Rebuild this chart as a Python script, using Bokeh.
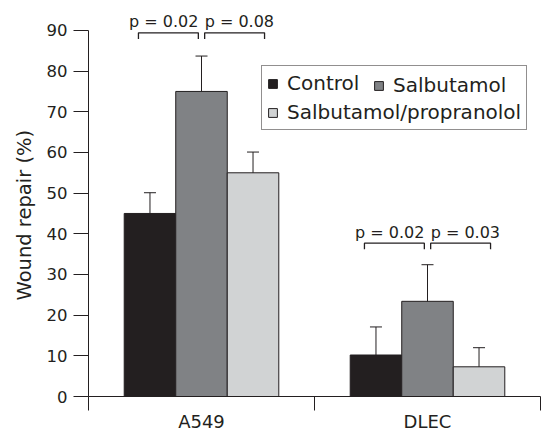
from bokeh.plotting import figure
from bokeh.models import (ColumnDataSource, Range1d, FixedTicker, Whisker, TeeHead,
                          Legend, LegendItem, Label, Title)
from bokeh.embed import file_html
from bokeh.resources import INLINE

# ---------------- data ----------------
cell_lines = ["A549", "DLEC"]
treatments = ["Control", "Salbutamol", "Salbutamol/propranolol"]
control = [45.0, 10.2]
control_err = [5.1, 6.9]
salbutamol = [75.0, 23.4]
salbutamol_err = [8.7, 9.0]
salb_prop = [55.0, 7.3]
salb_prop_err = [5.1, 4.7]
y_ticks = [0, 10, 20, 30, 40, 50, 60, 70, 80, 90]

# p-value brackets: each compares Salbutamol with its left or right neighbour
p_group = ["A549", "A549", "DLEC", "DLEC"]
p_side = ["left", "right", "left", "right"]
p_labels = ["p = 0.02", "p = 0.08", "p = 0.02", "p = 0.03"]
p_height = [89.4, 89.4, 37.7, 37.7]

# ---------------- style ----------------
INK = "#231f20"
FONT = "DejaVu Sans"
colors = ["#231f20", "#808285", "#d1d3d4"]
bar_w = 0.228
br_gap = 0.014
br_span = 0.265
br_leg = 1.5

values = [control, salbutamol, salb_prop]
errors = [control_err, salbutamol_err, salb_prop_err]

p = figure(width=542, height=435, x_range=Range1d(0, 2), y_range=Range1d(0, 94.9),
           output_backend="svg", toolbar_location=None,
           min_border_left=88, min_border_right=2, min_border_top=10, min_border_bottom=39)
p.outline_line_color = None
p.grid.visible = False
p.background_fill_color = "white"

renderers = []
for k, (vals, errs) in enumerate(zip(values, errors)):
    xs = [i + 0.5 + (k - 1) * bar_w for i in range(len(cell_lines))]
    src = ColumnDataSource(dict(x=xs, top=vals, upper=[v + e for v, e in zip(vals, errs)]))
    r = p.vbar(x="x", top="top", bottom=0, width=bar_w, source=src,
               fill_color=colors[k], line_color=INK, line_width=1)
    renderers.append(r)
    wh = Whisker(source=src, base="x", lower="top", upper="upper",
                 upper_head=TeeHead(size=12, line_color=INK, line_width=1),
                 lower_head=None, line_color=INK, line_width=1, level="glyph")
    p.add_layout(wh)

# brackets and p-value labels
bxs, bys = [], []
for g, side, lab, h in zip(p_group, p_side, p_labels, p_height):
    c = cell_lines.index(g) + 0.5
    if side == "left":
        x1 = c - br_gap
        x0 = x1 - br_span
        tx, al = x1, "right"
    else:
        x0 = c + br_gap
        x1 = x0 + br_span
        tx, al = x0, "left"
    bxs.append([x0, x0, x1, x1])
    bys.append([h - br_leg, h, h, h - br_leg])
    p.add_layout(Label(x=tx, y=h, text=lab, text_align=al, text_baseline="alphabetic",
                       y_offset=11, text_font=FONT, text_font_size="16px", text_color=INK))
p.multi_line(xs=bxs, ys=bys, line_color=INK, line_width=1.3)

# axes
xa = p.xaxis[0]
xa.ticker = FixedTicker(ticks=[i + 0.5 for i in range(len(cell_lines))],
                        minor_ticks=[i for i in range(len(cell_lines) + 1)])
xa.major_label_overrides = {i + 0.5: c for i, c in enumerate(cell_lines)}
xa.major_tick_line_color = None
xa.major_tick_out = 0
xa.major_tick_in = 0
xa.minor_tick_out = 14
xa.minor_tick_in = 0
xa.minor_tick_line_color = INK
xa.axis_line_color = INK
xa.major_label_standoff = 0
xa.major_label_text_font = FONT
xa.major_label_text_font_size = "18px"
xa.major_label_text_color = INK

ya = p.yaxis[0]
ya.bounds = (0, 90)
ya.ticker = FixedTicker(ticks=y_ticks, minor_ticks=[])
ya.major_tick_out = 15
ya.major_tick_in = 0
ya.minor_tick_line_color = None
ya.major_tick_line_color = INK
ya.axis_line_color = INK
ya.major_label_standoff = 6
ya.major_label_text_font = FONT
ya.major_label_text_font_size = "16.5px"
ya.major_label_text_color = INK

# y-axis title, centred on the 0-90 axis span
p.add_layout(Title(text="Wound repair (%)", align="left", offset=96, vertical_align="bottom",
                   standoff=16, text_font=FONT, text_font_size="19.5px",
                   text_font_style="normal", text_color=INK), "left")

# legends
leg1 = Legend(items=[LegendItem(label=treatments[0], renderers=[renderers[0]]),
                     LegendItem(label=treatments[2], renderers=[renderers[2]])],
              location=(173, 266), orientation="vertical",
              glyph_width=11, glyph_height=11, label_standoff=9, label_height=20,
              padding=5, spacing=5, margin=0,
              border_line_color=INK, border_line_width=1.5,
              background_fill_color="white", background_fill_alpha=1,
              label_text_font=FONT, label_text_font_size="20px", label_text_color=INK)
leg2 = Legend(items=[LegendItem(label=treatments[1], renderers=[renderers[1]])],
              location=(285, 299), orientation="vertical",
              glyph_width=11, glyph_height=11, label_standoff=9, label_height=20,
              padding=0, spacing=0, margin=0,
              border_line_color=None, background_fill_alpha=0,
              label_text_font=FONT, label_text_font_size="20px", label_text_color=INK)
p.add_layout(leg1, "center")
p.add_layout(leg2, "center")

open("out.html", "w").write(file_html(p, INLINE))
